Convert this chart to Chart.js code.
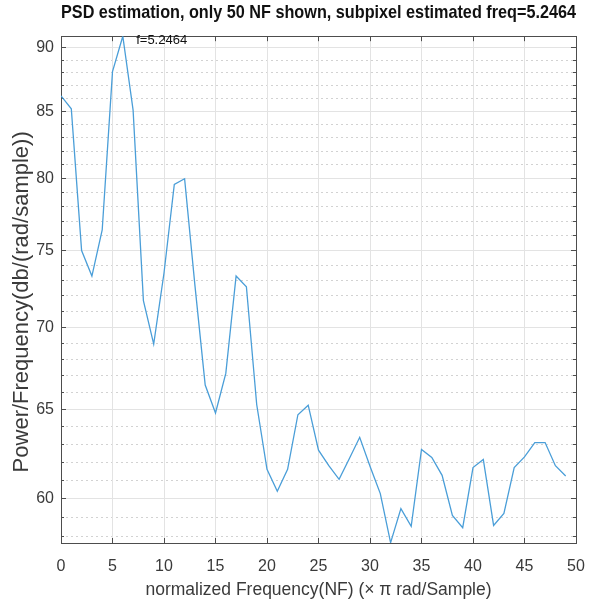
<!DOCTYPE html>
<html>
<head>
<meta charset="utf-8">
<script src="https://cdn.jsdelivr.net/npm/chart.js@4/dist/chart.umd.min.js"></script>
<style>
  html, body { margin: 0; padding: 0; background: #fff; }
  #wrap { width: 598px; height: 605px; }
</style>
</head>
<body>
<div id="wrap"><canvas id="psd" width="598" height="605"></canvas></div>
<script>
// normalized frequency bins (NF)
var freqNF = [0, 1, 2, 3, 4, 5, 6, 7, 8, 9, 10, 11, 12, 13, 14, 15, 16, 17, 18, 19,
  20, 21, 22, 23, 24, 25, 26, 27, 28, 29, 30, 31, 32, 33, 34, 35, 36, 37, 38, 39,
  40, 41, 42, 43, 44, 45, 46, 47, 48, 49]
// PSD in db/(rad/sample)
var psdDb = [86.2, 85.2, 75.0, 73.3, 76.4, 88.1, 90.95, 85.1, 71.7, 68.95,
  73.5, 79.6, 80.0, 72.7, 66.45, 64.8, 67.15, 73.3, 72.6, 65.3,
  61.6, 60.4, 61.6, 64.7, 65.26, 62.67, 61.8, 61.05, 62.2, 63.4,
  61.77, 60.27, 57.67, 59.46, 58.52, 62.71, 62.26, 61.27, 59.1, 58.45,
  61.7, 62.15, 58.57, 59.2, 61.7, 62.29, 63.1, 63.1, 61.8, 61.23]
var xTicks = [0, 5, 10, 15, 20, 25, 30, 35, 40, 45, 50]
var yMajorTicks = [60, 65, 70, 75, 80, 85, 90]
var yMinorTicks = [58, 59, 61, 62, 63, 64, 66, 67, 68, 69, 71, 72, 73, 74, 76, 77, 78, 79,
  81, 82, 83, 84, 86, 87, 88, 89]
var yMin = 57.65, yMax = 90.95
var peakLabel = "f=5.2464"
var peakLabelAt = [7.3, 90.6]

var axisColor = '#4d4d4d'
var gridColor = '#e3e3e3'
var minorColor = '#d2d2d2'
var textColor = '#3a3a3a'
var fontFam = "'Liberation Sans', Arial, Helvetica, sans-serif"

//text next to the peak
var peakText = {
  id: 'peakText',
  afterDatasetsDraw: function(chart) {
    var ctx = chart.ctx
    var px = chart.scales.x.getPixelForValue(peakLabelAt[0])
    var py = chart.scales.y.getPixelForValue(peakLabelAt[1])
    ctx.save()
    ctx.font = '13px ' + fontFam
    ctx.fillStyle = '#111'
    ctx.textAlign = 'left'
    ctx.textBaseline = 'middle'
    ctx.fillText(peakLabel, px, py)
    ctx.restore()
  }
}

//helper for the extra (unlabelled) axes of the box
function boxAxis(axis, position, ticks, opts) {
  var s = {
    type: axis == 'x' ? 'linear' : 'logarithmic',
    position: position,
    min: axis == 'x' ? 0 : yMin,
    max: axis == 'x' ? 50 : yMax,
    afterBuildTicks: function(sc) { sc.ticks = ticks.map(function(v) { return { value: v } }) },
    afterFit: function(sc) {
      if (axis == 'x') sc.height = 0; else sc.width = 0
      sc.paddingLeft = sc.paddingRight = sc.paddingTop = sc.paddingBottom = 0
    },
    ticks: { display: false },
    border: { display: true, color: axisColor, width: 1 },
    grid: {
      drawOnChartArea: false,
      drawTicks: true,
      tickLength: -5,
      tickColor: axisColor,
      tickWidth: 1
    }
  }
  if (opts) Object.assign(s.grid, opts.grid || {}), Object.assign(s.border, opts.border || {})
  return s
}

var points = freqNF.map(function(f, i) { return { x: f, y: psdDb[i] } })

new Chart(document.getElementById('psd'), {
  type: 'line',
  data: {
    datasets: [{
      data: points,
      borderColor: '#4a9ed8',
      borderWidth: 1.3,
      pointRadius: 0,
      tension: 0,
      fill: false
    }]
  },
  options: {
    responsive: false,
    animation: false,
    layout: { padding: { left: 0, right: 22, top: 0, bottom: 0 } },
    plugins: {
      legend: { display: false },
      tooltip: { enabled: false },
      title: {
        display: true,
        fullSize: false,
        text: 'PSD estimation, only 50 NF shown, subpixel estimated freq=5.2464',
        color: '#111',
        font: { family: fontFam, size: 18.5, weight: 'bold' },
        padding: { top: 2, bottom: 12 }
      }
    },
    scales: {
      yMinor: boxAxis('y', 'left', yMinorTicks, {
        grid: { drawOnChartArea: true, color: minorColor, tickLength: -3 },
        border: { display: false, dash: [2, 3] }
      }),
      yMinorR: boxAxis('y', 'right', yMinorTicks, { grid: { tickLength: -3 }, border: { display: false } }),
      x: {
        type: 'linear',
        position: 'bottom',
        min: 0,
        max: 50,
        afterBuildTicks: function(sc) { sc.ticks = xTicks.map(function(v) { return { value: v } }) },
        afterFit: function(sc) {
          sc.height = 62
          sc.paddingLeft = sc.paddingRight = 0
        },
        ticks: {
          color: textColor,
          padding: 19,
          maxRotation: 0,
          font: { family: fontFam, size: 16 }
        },
        grid: { color: gridColor, tickLength: -5, tickColor: axisColor },
        border: { color: axisColor, width: 1 },
        title: {
          display: true,
          text: 'normalized Frequency(NF) (\u00d7 \u03c0 rad/Sample)',
          color: textColor,
          font: { family: fontFam, size: 17.5 },
          padding: { top: 0, bottom: 4 }
        }
      },
      y: {
        type: 'logarithmic',
        position: 'left',
        min: yMin,
        max: yMax,
        afterBuildTicks: function(sc) { sc.ticks = yMajorTicks.map(function(v) { return { value: v } }) },
        afterFit: function(sc) {
          sc.width = 61
          sc.paddingTop = sc.paddingBottom = 0
        },
        ticks: {
          color: textColor,
          padding: 12,
          font: { family: fontFam, size: 16 },
          callback: function(v) { return String(v) }
        },
        grid: { color: gridColor, tickLength: -5, tickColor: axisColor },
        border: { color: axisColor, width: 1 },
        title: {
          display: true,
          text: 'Power/Frequency(db/(rad/sample))    ',
          color: textColor,
          font: { family: fontFam, size: 22 },
          padding: { top: 9, bottom: 0 }
        }
      },
      x2: boxAxis('x', 'top', xTicks),
      y2: boxAxis('y', 'right', yMajorTicks)
    }
  },
  plugins: [peakText]
})
</script>
</body>
</html>
